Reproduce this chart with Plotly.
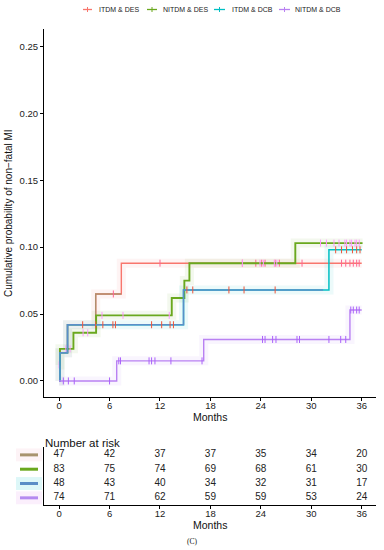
import numpy as np
import plotly.graph_objects as go

W, H = 384, 550
L, R, T, B = 44, 8, 29, 45
PW, PH = W - L - R, H - T - B


def px(x):
    return (x - L) / PW


def py(y):
    return (H - B - y) / PH


groups = ["ITDM & DES", "NITDM & DES", "ITDM & DCB", "NITDM & DCB"]

# Kaplan-Meier step curves (event times in months, cumulative probability)
t_itdm_des = [0, 0.1, 1.0, 4.35, 7.4, 36.0]
p_itdm_des = [0, 0.021, 0.042, 0.065, 0.088, 0.088]
t_nitdm_des = [0, 0.1, 1.7, 4.4, 13.4, 14.9, 15.5, 28.1, 36.1]
p_nitdm_des = [0.012, 0.024, 0.036, 0.049, 0.062, 0.075, 0.088, 0.103, 0.103]
t_itdm_dcb = [0, 0.1, 1.0, 14.8, 32.1, 36.0]
p_itdm_dcb = [0, 0.021, 0.042, 0.068, 0.098, 0.098]
t_nitdm_dcb = [0, 6.85, 17.2, 34.6, 36.0]
p_nitdm_dcb = [0, 0.015, 0.031, 0.053, 0.053]

# censoring times
c_itdm_des = [6.45, 12.0, 21.8, 23.4, 24.1, 24.5, 25.7, 26.2, 28.9, 33.6, 34.1, 34.6, 35.0, 35.4, 35.7]
c_nitdm_des = [0.0, 0.8, 1.3, 2.85, 3.4, 5.1, 7.6, 13.1, 21.8, 23.9, 24.3, 25.6, 25.9,
               31.1, 31.8, 32.7, 33.3, 34.0, 34.2, 34.6, 34.8, 35.2, 35.4, 35.7]
c_itdm_dcb = [2.8, 4.35, 5.2, 6.4, 6.7, 11.0, 12.2, 13.2, 13.6, 15.2, 15.9, 20.2, 22.0, 25.7,
              32.9, 33.6, 34.2, 34.9, 35.4, 35.8]
c_nitdm_dcb = [0.5, 1.1, 1.8, 6.0, 7.1, 7.3, 10.7, 11.0, 11.4, 13.3, 17.0, 24.2, 24.5, 25.4, 25.8,
               28.3, 28.6, 32.1, 33.5, 34.1, 34.7, 35.0, 35.4, 35.7]

# number at risk
risk_times = [0, 6, 12, 18, 24, 30, 36]
risk_itdm_des = [47, 42, 37, 37, 35, 34, 20]
risk_nitdm_des = [83, 75, 74, 69, 68, 61, 30]
risk_itdm_dcb = [48, 43, 40, 34, 32, 31, 17]
risk_nitdm_dcb = [74, 71, 62, 59, 59, 53, 24]

y_ticks = [0.00, 0.05, 0.10, 0.15, 0.20, 0.25]

series = [
    (t_itdm_des, p_itdm_des, c_itdm_des, risk_itdm_des),
    (t_nitdm_des, p_nitdm_des, c_nitdm_des, risk_nitdm_des),
    (t_itdm_dcb, p_itdm_dcb, c_itdm_dcb, risk_itdm_dcb),
    (t_nitdm_dcb, p_nitdm_dcb, c_nitdm_dcb, risk_nitdm_dcb),
]

line_colors = ["#F8766D", "#6AA81E", "#00BFC4", "#B981F2"]
early_colors = ["#B08E6C", None, "#5B8EC8", None]
early_until = [7.0, None, 31.0, None]
swatch_colors = ["#A8936E", "#6AA81E", "#5A8DC6", "#B58AF0"]
swatch_bg = ["#FDF3F6", None, "#DDF7F8", "#FBEFFC"]
widths = [1.4, 1.9, 1.5, 1.4]

fig = go.Figure()


def step_value(ts, ps, x):
    idx = np.searchsorted(np.array(ts), x, side="right") - 1
    return ps[max(idx, 0)]


# faint band halos
for (ts, ps, cs, rk), col in zip(series, line_colors):
    fig.add_trace(go.Scatter(x=ts, y=ps, mode="lines", line=dict(color=col, width=9, shape="hv"),
                             opacity=0.07, hoverinfo="skip", showlegend=False))

for i, ((ts, ps, cs, rk), col) in enumerate(zip(series, line_colors)):
    fig.add_trace(go.Scatter(x=ts, y=ps, mode="lines", name=groups[i],
                             line=dict(color=col, width=widths[i], shape="hv"), showlegend=False))
    if early_until[i] is not None:
        n = sum(1 for t in ts if t <= early_until[i])
        xs = list(ts[:n]) + [early_until[i] + 0.4]
        ys = list(ps[:n]) + [ps[n - 1]]
        fig.add_trace(go.Scatter(x=xs, y=ys, mode="lines", line=dict(color=early_colors[i], width=widths[i], shape="hv"),
                                 showlegend=False, hoverinfo="skip"))
    cy = [step_value(ts, ps, c) for c in cs]
    cc = [early_colors[i] if (early_until[i] is not None and c <= early_until[i]) else col for c in cs]
    fig.add_trace(go.Scatter(x=cs, y=cy, mode="markers",
                             marker=dict(symbol="line-ns-open", size=5, line=dict(color=cc, width=1)),
                             showlegend=False, hoverinfo="skip"))

# risk table
row_y = [3.5, 2.5, 1.5, 0.5]
for i, (ts, ps, cs, rk) in enumerate(series):
    fig.add_trace(go.Scatter(x=risk_times, y=[row_y[i]] * len(risk_times), mode="text",
                             text=[str(v) for v in rk], textfont=dict(size=10, color="#222", family="Liberation Sans"),
                             xaxis="x2", yaxis="y2", showlegend=False, hoverinfo="skip"))

shapes = []
annotations = []
for i in range(4):
    if swatch_bg[i]:
        shapes.append(dict(type="rect", xref="paper", yref="y2", x0=px(16), x1=px(42),
                           y0=row_y[i] - 0.45, y1=row_y[i] + 0.45, fillcolor=swatch_bg[i], line=dict(width=0), layer="below"))
    shapes.append(dict(type="line", xref="paper", yref="y2", x0=px(20), x1=px(38),
                       y0=row_y[i], y1=row_y[i], line=dict(color=swatch_colors[i], width=3)))

# custom top legend
leg_sym = [(83, 92), (147, 157), (214, 225), (279, 290)]
leg_txt = [97, 161, 230, 293]
ly = py(9.5)
for i in range(4):
    a, b = leg_sym[i]
    shapes.append(dict(type="line", xref="paper", yref="paper", x0=px(a), x1=px(b), y0=ly, y1=ly,
                       line=dict(color=line_colors[i], width=1.3)))
    shapes.append(dict(type="line", xref="paper", yref="paper", x0=px((a + b) / 2), x1=px((a + b) / 2),
                       y0=ly - 2.5 / PH, y1=ly + 2.5 / PH, line=dict(color=line_colors[i], width=1)))
    annotations.append(dict(text=groups[i], xref="paper", yref="paper", x=px(leg_txt[i]), y=ly,
                            xanchor="left", yanchor="middle", showarrow=False,
                            font=dict(size=7, color="#222", family="Liberation Sans")))

annotations += [
    dict(text="Cumulative probability of non\u2212fatal MI", xref="paper", yref="paper", x=px(9), y=py(213),
         textangle=-90, showarrow=False, xanchor="center", yanchor="middle",
         font=dict(size=10, color="#111", family="Liberation Sans")),
    dict(text="Months", xref="paper", yref="paper", x=px(210), y=py(417), showarrow=False,
         xanchor="center", yanchor="middle", font=dict(size=10.5, color="#111", family="Liberation Sans")),
    dict(text="Number at risk", xref="paper", yref="paper", x=px(43), y=py(443), showarrow=False,
         xanchor="left", yanchor="middle", font=dict(size=11.5, color="#111", family="Liberation Sans")),
    dict(text="Months", xref="paper", yref="paper", x=px(210), y=py(525), showarrow=False,
         xanchor="center", yanchor="middle", font=dict(size=10.5, color="#111", family="Liberation Sans")),
    dict(text="(C)", xref="paper", yref="paper", x=px(192), y=py(541), showarrow=False,
         xanchor="center", yanchor="middle", font=dict(size=7.5, color="#111111", family="Liberation Serif")),
]

xr = [-1.8, 37.7]
axis_common = dict(showline=True, linecolor="black", linewidth=1, ticks="outside", ticklen=3,
                   tickcolor="black", showgrid=False, zeroline=False,
                   tickfont=dict(size=9.5, color="#222", family="Liberation Sans"))

fig.update_layout(
    width=W, height=H, margin=dict(l=L, r=R, t=T, b=B),
    plot_bgcolor="white", paper_bgcolor="white", showlegend=False,
    xaxis=dict(range=xr, tickvals=risk_times, domain=[0, 1], anchor="y", ticklabelstandoff=-3, **axis_common),
    yaxis=dict(range=[-0.012, 0.263], tickvals=y_ticks, tickformat=".2f", domain=[py(397), 1], anchor="x",
               **axis_common),
    xaxis2=dict(range=xr, tickvals=risk_times, domain=[0, 1], anchor="y2", ticklabelstandoff=-3, **axis_common),
    yaxis2=dict(range=[0, 4.05], domain=[0, py(447)], anchor="x2", showline=True, linecolor="black",
                linewidth=1, showticklabels=False, ticks="", showgrid=False, zeroline=False),
    shapes=shapes, annotations=annotations,
)

fig.write_html("out.html", config={"displayModeBar": False},
               post_script="document.body.style.margin='0';document.body.style.padding='0';document.body.style.overflow='hidden';")
